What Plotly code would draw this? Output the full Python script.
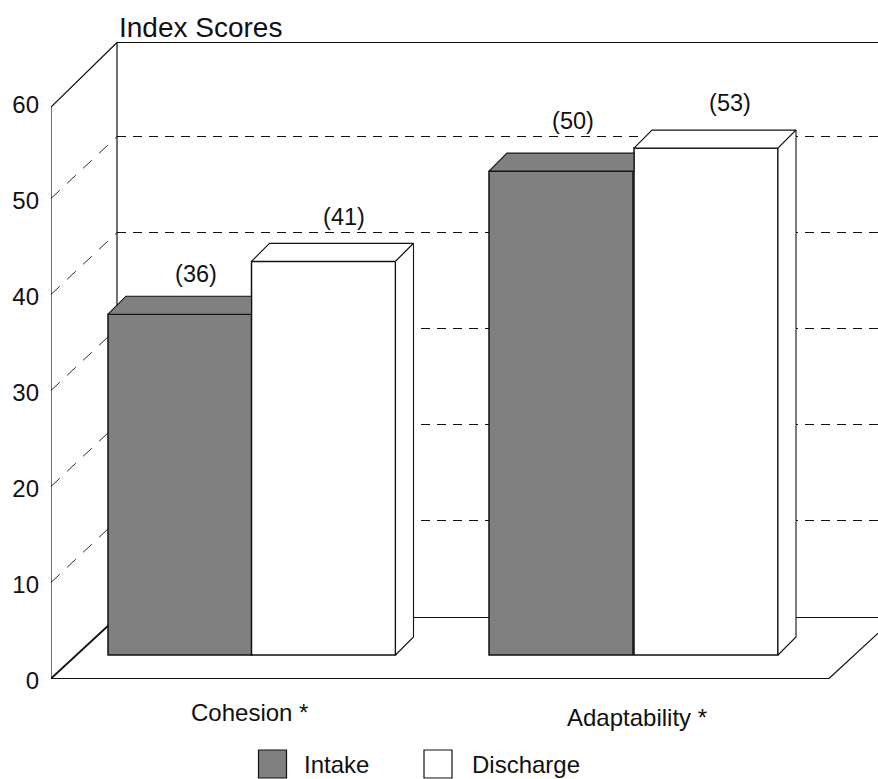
import plotly.graph_objects as go

# ---- data ----
categories = ["Cohesion *", "Adaptability *"]
intake_values = [35.5, 50.4]
discharge_values = [41.0, 52.8]
intake_labels = ["(36)", "(50)"]
discharge_labels = ["(41)", "(53)"]
y_ticks = [0, 10, 20, 30, 40, 50, 60]
grid_values = [10, 20, 30, 40, 50]

# ---- layout constants (x axis is in page pixels, y axis in score units) ----
W, H = 878, 779
PX_PER_UNIT = 9.6
ZERO_PX = 678.5
def u(px):
    return px / PX_PER_UNIT
def page_y(py):
    return (ZERO_PX - py) / PX_PER_UNIT

WALL_L, WALL_R = 51, 117
BACK_RISE = u(62)
BASE = u(23.5)
BAR_W = 144
DEPTH_X, DEPTH_Y = 18, u(18)
intake_x = [180, 561]
discharge_x = [323.5, 706]
INK = "#111111"
GREY = "#808080"
FONT = "Liberation Sans, Arial, sans-serif"
FS = 24

def line(x0, y0, x1, y1, dash="solid", width=1.2, color=INK):
    return dict(type="line", xref="x", yref="y", x0=x0, y0=y0, x1=x1, y1=y1,
                layer="below", line=dict(color=color, width=width, dash=dash))

shapes = []
for v in grid_values:
    shapes.append(line(WALL_L, v, WALL_R, v + BACK_RISE, "12px,10px", 0.9))
    shapes.append(line(WALL_R, v + BACK_RISE, W, v + BACK_RISE, "9px,7px", 1.2))
FRONT_TOP = page_y(107)
BACK_TOP = page_y(42.5)
FLOOR_BACK = page_y(617.5)
shapes += [
    line(WALL_L, 0, WALL_L, FRONT_TOP),
    line(WALL_R, FLOOR_BACK, WALL_R, BACK_TOP),
    line(WALL_L, FRONT_TOP, WALL_R, BACK_TOP),
    line(WALL_R, BACK_TOP, W, BACK_TOP),
    line(WALL_L, 0, WALL_R, FLOOR_BACK, width=1.8),
    line(WALL_L, 0, 829, 0),
    line(WALL_R, FLOOR_BACK, W, FLOOR_BACK),
    line(829, 0, 829 + 66, FLOOR_BACK),
]

fig = go.Figure()

fig.add_trace(go.Bar(name="Intake", x=intake_x, y=intake_values, base=BASE, width=BAR_W,
                     marker=dict(color=GREY, line=dict(color=INK, width=1.5)),
                     showlegend=False, hoverinfo="skip"))
fig.add_trace(go.Bar(name="Discharge", x=discharge_x, y=discharge_values, base=BASE, width=BAR_W,
                     marker=dict(color="white", line=dict(color=INK, width=1.5)),
                     showlegend=False, hoverinfo="skip"))

def poly(xs, ys, fill):
    fig.add_trace(go.Scatter(x=xs, y=ys, mode="lines", fill="toself", fillcolor=fill,
                             line=dict(color=INK, width=1.1), showlegend=False,
                             hoverinfo="skip", cliponaxis=False))

for xc, val, xnext in zip(intake_x, intake_values, discharge_x):
    l, r = xc - BAR_W / 2, xnext - BAR_W / 2
    t = val + BASE
    poly([l, r, r, l + DEPTH_X, l], [t, t, t + DEPTH_Y, t + DEPTH_Y, t], GREY)

for xc, val in zip(discharge_x, discharge_values):
    l, r = xc - BAR_W / 2, xc + BAR_W / 2
    t = val + BASE
    poly([l, r, r + DEPTH_X, l + DEPTH_X, l], [t, t, t + DEPTH_Y, t + DEPTH_Y, t], "white")
    poly([r, r + DEPTH_X, r + DEPTH_X, r, r],
         [t, t + DEPTH_Y, BASE + DEPTH_Y, BASE, t], "white")

# value labels
label_dx = [16, 12], [20.5, 24]
label_py = [276, 123], [219, 105]
for xs, labels, dxs, pys in ((intake_x, intake_labels, label_dx[0], label_py[0]),
                             (discharge_x, discharge_labels, label_dx[1], label_py[1])):
    fig.add_trace(go.Scatter(x=[a + b for a, b in zip(xs, dxs)], y=[page_y(p) for p in pys],
                             mode="text", text=labels, textposition="middle center",
                             textfont=dict(family=FONT, size=FS - 0.5, color=INK),
                             showlegend=False, hoverinfo="skip", cliponaxis=False))

# legend
LEG_Y = page_y(764)
for name, mx, color, tx in (("Intake", 272.5, GREY, 304), ("Discharge", 438, "white", 472)):
    fig.add_trace(go.Scatter(x=[mx], y=[LEG_Y], mode="markers",
                             marker=dict(symbol="square", size=28, color=color,
                                         line=dict(color=INK, width=1.2)),
                             showlegend=False, hoverinfo="skip", cliponaxis=False))

annotations = [
    dict(x=304, y=LEG_Y, text="Intake", xanchor="left"),
    dict(x=472, y=LEG_Y, text="Discharge", xanchor="left"),
    dict(x=249.5, y=page_y(712), text=categories[0], xanchor="center"),
    dict(x=637, y=page_y(717), text=categories[1], xanchor="center"),
    dict(x=119, y=page_y(27), text="Index Scores", xanchor="left"),
]
for a in annotations:
    a.update(xref="x", yref="y", showarrow=False, yanchor="middle", xshift=0, borderpad=0, borderwidth=0,
             font=dict(family=FONT, size=FS, color=INK))
annotations[-1]["font"] = dict(family=FONT, size=28, color=INK)

fig.update_layout(
    width=W, height=H, margin=dict(l=WALL_L, r=0, t=0, b=0),
    paper_bgcolor="white", plot_bgcolor="white",
    barmode="overlay", showlegend=False, shapes=shapes, annotations=annotations,
    xaxis=dict(range=[WALL_L, W], visible=False, fixedrange=True),
    yaxis=dict(range=[page_y(H), page_y(0)], tickvals=y_ticks, ticktext=[str(v) for v in y_ticks],
               showgrid=False, zeroline=False, showline=False, ticks="", ticklabelstandoff=11,
               ticklabelshift=2,
               tickfont=dict(family=FONT, size=FS, color=INK), fixedrange=True),
)
fig.write_html("out.html", config=dict(displayModeBar=False),
               post_script="document.body.style.margin='0';document.body.style.overflow='hidden';")
